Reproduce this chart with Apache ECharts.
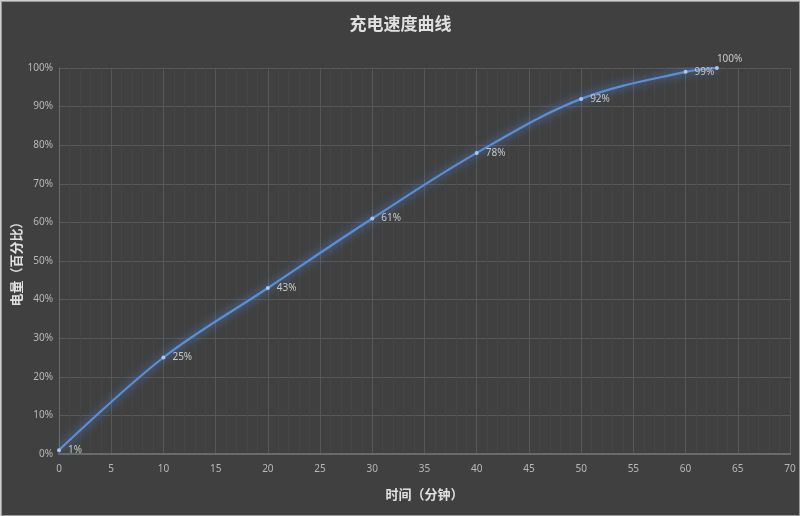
<!DOCTYPE html>
<html>
<head>
<meta charset="utf-8">
<script src="https://cdn.jsdelivr.net/npm/echarts@6/dist/echarts.min.js"></script>
<style>
    html, body {margin: 0; padding: 0; background: #cfcfcf;}
    #main {position: absolute; left: 1px; top: 1px; width: 797px; height: 513px; background: #404040; border: 1px solid #9a9a9a;}
</style>
</head>
<body>
<div id="main"></div>
<script>
//充电时间(分钟) / 电量(%)
var minutes = [0, 10, 20, 30, 40, 50, 60, 63];
var levels  = [1, 25, 43, 61, 78, 92, 99, 100];

var points = minutes.map(function (m, i) {
    return [m, levels[i]];
});

var chart = echarts.init(document.getElementById('main'));
chart.setOption({
    backgroundColor: '#404040',
    animation: false,
    title: {
        text: '充电速度曲线',
        left: 'center',
        top: 8,
        textStyle: {color: '#e0e0e0', fontSize: 17, fontWeight: 'bold', fontFamily: 'Noto Sans CJK SC'}
    },
    grid: {left: 57, right: 9, top: 66, bottom: 61, outerBoundsMode: 'none', containLabel: false},
    xAxis: {
        type: 'value',
        min: 0,
        max: 70,
        interval: 5,
        minorTick: {show: false, splitNumber: 5},
        minorSplitLine: {show: true, lineStyle: {color: '#464646', width: 1}},
        splitLine: {show: true, lineStyle: {color: '#585858', width: 1}},
        axisLine: {onZero: false, lineStyle: {color: '#6a6a6a', width: 2}},
        axisTick: {show: false},
        axisLabel: {color: '#b8b8b8', fontSize: 10, margin: 10, fontFamily: 'Noto Sans'},
        name: '时间（分钟）',
        nameLocation: 'middle',
        nameGap: 34,
        nameTextStyle: {color: '#e0e0e0', fontSize: 13, fontWeight: 'bold', fontFamily: 'Noto Sans CJK SC'}
    },
    yAxis: {
        type: 'value',
        min: 0,
        max: 100,
        interval: 10,
        splitLine: {show: true, lineStyle: {color: '#585858', width: 1}},
        axisLine: {show: true, lineStyle: {color: '#6a6a6a', width: 1}},
        axisTick: {show: false},
        axisLabel: {color: '#b8b8b8', fontSize: 10, margin: 6, formatter: '{value}%', fontFamily: 'Noto Sans'},
        name: '电量（百分比）',
        nameLocation: 'middle',
        nameGap: 36,
        nameMoveOverlap: false,
        nameTextStyle: {color: '#e0e0e0', fontSize: 13, fontWeight: 'bold', fontFamily: 'Noto Sans CJK SC'}
    },
    series: [{
        type: 'line',
        data: points,
        smooth: 0.35,
        symbol: 'circle',
        symbolSize: 4,
        itemStyle: {color: '#a9c8f0'},
        lineStyle: {
            color: '#5a8fd8',
            width: 2.2,
            shadowColor: 'rgba(90,150,240,0.95)',
            shadowBlur: 10
        },
        label: {
            show: true,
            position: 'right',
            distance: 7,
            offset: [0, 2],
            color: '#c8c8c8',
            fontSize: 10,
            fontFamily: 'Noto Sans',
            formatter: function (p) {
                return p.value[1] + '%';
            }
        },
        labelLayout: function (p) {
            //最后一点标签放在右上方
            if (p.dataIndex === minutes.length - 1) {
                return {x: p.rect.x + 2, y: p.rect.y - 12};
            }
        }
    }]
});
</script>
</body>
</html>
